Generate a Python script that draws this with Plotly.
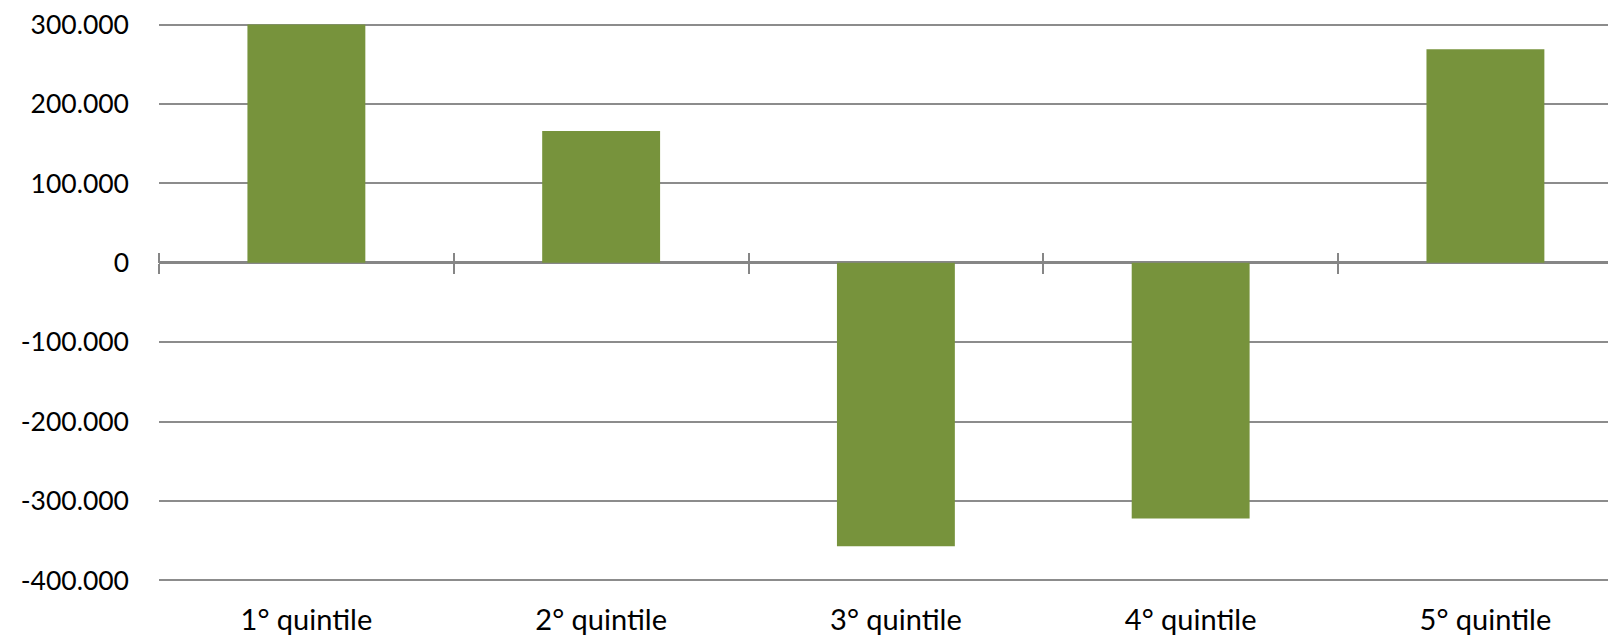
import plotly.graph_objects as go

categories = ["1° quintile", "2° quintile", "3° quintile", "4° quintile", "5° quintile"]
values = [300000, 166000, -357000, -322000, 269000]
y_tickvals = [300000, 200000, 100000, 0, -100000, -200000, -300000, -400000]
y_ticktext = ["300.000", "200.000", "100.000", "0", "-100.000", "-200.000", "-300.000", "-400.000"]

x_pos = list(range(len(categories)))
boundaries = [i - 0.5 for i in x_pos]

# the page body has an 8px default margin, so the figure is sized to fit the window
W, H = 1608, 630
ml, mr, mt, mb = 151, 0, 15, 56
ymin, ymax = -402000, 302000
zero_frac = (0 - ymin) / (ymax - ymin)

font_y = dict(family="Lato, 'Open Sans', sans-serif", size=26.5, color="#000000")
font_x = dict(family="Lato, 'Open Sans', sans-serif", size=29, color="#000000")

fig = go.Figure()
fig.add_trace(go.Bar(
    x=x_pos, y=values, width=0.4,
    marker=dict(color="#77933C", line=dict(width=0)),
    hoverinfo="skip",
))

fig.update_layout(
    width=W, height=H,
    margin=dict(l=ml, r=mr, t=mt, b=mb, autoexpand=False),
    paper_bgcolor="white", plot_bgcolor="white",
    showlegend=False,
    xaxis=dict(
        range=[-0.5, 4.443],
        tickmode="array", tickvals=x_pos, ticktext=categories,
        showgrid=False, zeroline=False, showline=False, ticks="",
        ticklabelstandoff=18, tickfont=font_x, automargin=False,
        ticklabeloverflow="allow",
    ),
    xaxis2=dict(
        overlaying="x", matches="x", anchor="free", position=zero_frac,
        tickmode="array", tickvals=boundaries, showticklabels=False,
        ticks="outside", ticklen=10, tickwidth=2, tickcolor="#868686",
        showgrid=False, zeroline=False, showline=False, automargin=False,
    ),
    xaxis3=dict(
        overlaying="x", matches="x", anchor="free", position=zero_frac, side="top",
        tickmode="array", tickvals=boundaries, showticklabels=False,
        ticks="outside", ticklen=10, tickwidth=2, tickcolor="#868686",
        showgrid=False, zeroline=False, showline=False, automargin=False,
    ),
    yaxis=dict(
        range=[ymin, ymax],
        tickmode="array", tickvals=y_tickvals, ticktext=y_ticktext,
        showgrid=True, gridcolor="#8C8C8C", gridwidth=1.5,
        zeroline=True, zerolinecolor="#868686", zerolinewidth=2.5,
        showline=False, ticks="", ticklabelstandoff=29, tickfont=font_y,
        automargin=False, ticklabeloverflow="allow",
    ),
)

# invisible traces to activate the overlay axes
fig.add_trace(go.Scatter(x=[0], y=[0], xaxis="x2", mode="markers",
                         marker=dict(opacity=0), hoverinfo="skip"))
fig.add_trace(go.Scatter(x=[0], y=[0], xaxis="x3", mode="markers",
                         marker=dict(opacity=0), hoverinfo="skip"))

fig.write_html("out.html")
